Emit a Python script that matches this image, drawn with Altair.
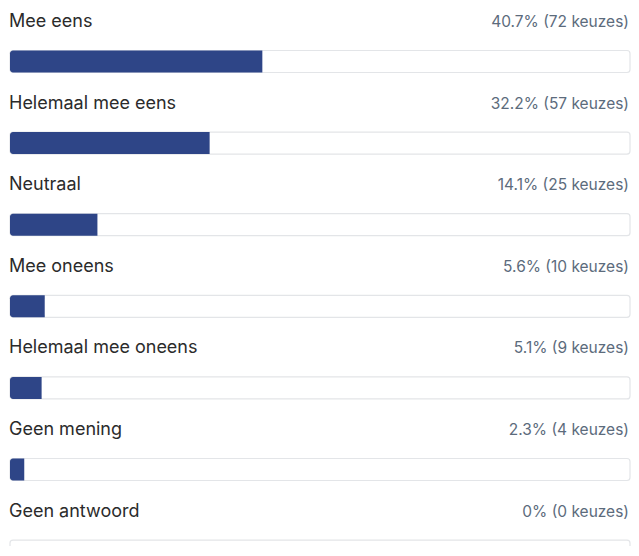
import altair as alt
import pandas as pd

categories = ["Mee eens", "Helemaal mee eens", "Neutraal", "Mee oneens",
              "Helemaal mee oneens", "Geen mening", "Geen antwoord"]
percentages = [40.7, 32.2, 14.1, 5.6, 5.1, 2.3, 0]
counts = [72, 57, 25, 10, 9, 4, 0]

def fmt(p, c):
    ps = ("%g" % p)
    return f"{ps}% ({c} keuzes)"

df = pd.DataFrame({
    "cat": categories,
    "pct": percentages,
    "row": list(range(len(categories))),
    "label": [fmt(p, c) for p, c in zip(percentages, counts)],
    "start": [0] * len(categories),
    "full": [100] * len(categories),
})

pitch = 81.6
top = 53.5
xs = alt.Scale(domain=[0, 100], range=[2, 622], nice=False, zero=False, padding=0)
ys = alt.Scale(domain=[0, 6], range=[top, top + 6 * pitch], nice=False, zero=False, padding=0)

base = alt.Chart(df)

track = base.mark_bar(size=22, fill="white", stroke="#e3e5e8", strokeWidth=1.2,
                      cornerRadius=3).encode(
    x=alt.X("start:Q", scale=xs, axis=None),
    x2="full:Q",
    y=alt.Y("row:Q", scale=ys, axis=None),
)

bar = base.mark_bar(size=22, fill="#2e4587",
                    cornerRadiusTopLeft=3, cornerRadiusBottomLeft=3).encode(
    x=alt.X("start:Q", scale=xs, axis=None),
    x2="pct:Q",
    y=alt.Y("row:Q", scale=ys, axis=None),
)

labels = base.mark_text(align="left", baseline="alphabetic", dy=-34.5,
                        font="Inter", fontSize=18, color="#2b2b2b").encode(
    x=alt.value(1),
    y=alt.Y("row:Q", scale=ys, axis=None),
    text="cat:N",
)

values = base.mark_text(align="right", baseline="alphabetic", dy=-34.5,
                        font="Inter", fontSize=15.5, color="#5c6b7c").encode(
    x=alt.value(621),
    y=alt.Y("row:Q", scale=ys, axis=None),
    text="label:N",
)

chart = alt.layer(track, bar, labels, values).properties(
    width=623, height=538,
    autosize=alt.AutoSizeParams(type="none"),
    padding=0,
    background="white",
).configure_view(stroke=None)

chart.save("out.html", embed_options={"renderer": "svg", "actions": False})
